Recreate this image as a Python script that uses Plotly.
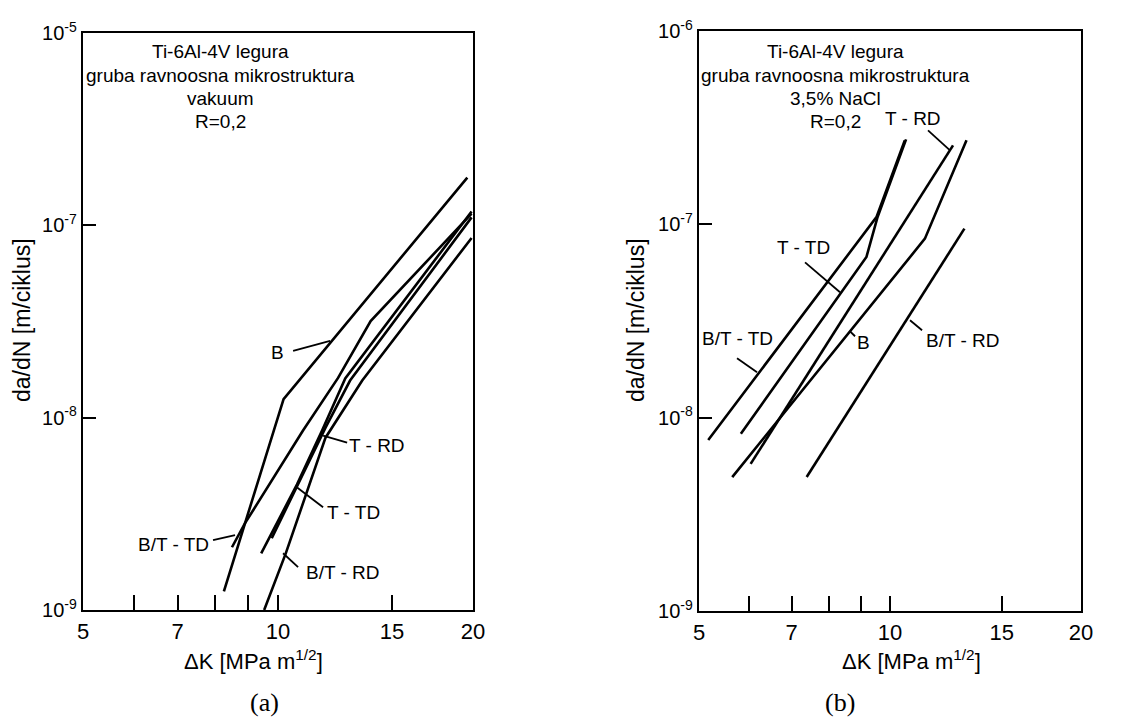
import numpy as np
import plotly.graph_objects as go

# ---------------- Panel (a): vakuum ----------------
a_B_dk = [8.25, 10.2, 19.6]
a_B_rate = [1.25e-9, 1.25e-8, 1.77e-7]

a_BTTD_dk = [8.49, 8.89, 10.93, 12.38, 13.9, 19.9]
a_BTTD_rate = [2.12e-9, 2.82e-9, 8.57e-9, 1.61e-8, 3.18e-8, 1.15e-7]

a_TTD_dk = [9.42, 10.7, 11.7, 12.7, 19.9]
a_TTD_rate = [1.97e-9, 4.5e-9, 8.6e-9, 1.6e-8, 1.18e-7]

a_TRD_dk = [9.78, 11.84, 12.92, 19.9]
a_TRD_rate = [2.36e-9, 8.88e-9, 1.56e-8, 1.1e-7]

a_BTRD_dk = [9.52, 10.28, 11.84, 13.49, 19.9]
a_BTRD_rate = [1.0e-9, 1.97e-9, 7.87e-9, 1.56e-8, 8.6e-8]

# ---------------- Panel (b): 3,5% NaCl ----------------
b_BTTD_dk = [5.17, 9.52, 10.55]
b_BTTD_rate = [7.67e-9, 1.09e-7, 2.72e-7]

b_TTD_dk = [5.82, 9.18, 9.55, 10.6]
b_TTD_rate = [8.25e-9, 6.78e-8, 1.08e-7, 2.75e-7]

b_TRD_dk = [6.03, 12.57]
b_TRD_rate = [5.77e-9, 2.56e-7]

b_B_dk = [5.64, 11.35, 13.2]
b_B_rate = [4.93e-9, 8.43e-8, 2.72e-7]

b_BTRD_dk = [7.39, 13.1]
b_BTRD_rate = [4.93e-9, 9.5e-8]

# ---------------- Labels / leaders (log10 data coords) ----------------
a_label_text = ['B', 'T - RD', 'T - TD', 'B/T - RD', 'B/T - TD']
a_label_logk = [0.9986, 1.153, 1.1159, 1.1005, 0.838]
a_label_logv = [-7.663, -8.145, -8.492, -8.803, -8.658]
a_leader_logk = [[1.0233, 1.0804], [1.1067, 1.0696], [1.0696, 1.0295], [1.031, 1.0078], [0.8997, 0.9337]]
a_leader_logv = [[-7.653, -7.601], [-8.1295, -8.0933], [-8.466, -8.363], [-8.777, -8.705], [-8.637, -8.611]]

b_label_text = ['T - RD', 'T - TD', 'B/T - TD', 'B', 'B/T - RD']
b_label_logk = [1.0363, 0.8629, 0.7589, 0.9575, 1.1151]
b_label_logv = [-6.452, -7.119, -7.589, -7.6098, -7.5995]
b_leader_logk = [[1.0599, 1.0946], [0.8661, 0.9212], [0.7589, 0.7904], [0.937, 0.9449], [1.0315, 1.0505]]
b_leader_logv = [[-6.514, -6.6176], [-7.1964, -7.3514], [-7.6925, -7.7649], [-7.553, -7.5788], [-7.4961, -7.5478]]

a_title_lines = ['Ti-6Al-4V legura', 'gruba ravnoosna mikrostruktura', 'vakuum', 'R=0,2']
b_title_lines = ['Ti-6Al-4V legura', 'gruba ravnoosna mikrostruktura', '3,5% NaCl', 'R=0,2']

x_tick_vals = [5, 7, 10, 15, 20]
x_tick_text = ['5', '7', '10', '15', '20']
x_minor_vals = [6, 8, 9]
y_tick_vals = [1e-9, 1e-8, 1e-7, 1e-6]
a_y_tick_text = ['10<sup>-9</sup>', '10<sup>-8</sup>', '10<sup>-7</sup>', '10<sup>-5</sup>']
b_y_tick_text = ['10<sup>-9</sup>', '10<sup>-8</sup>', '10<sup>-7</sup>', '10<sup>-6</sup>']

FONT = 'Liberation Sans'
LW = 2.6

fig = go.Figure()


def add_line(xs, ys, xa, ya, width=LW):
    fig.add_trace(go.Scatter(x=xs, y=ys, mode='lines', xaxis=xa, yaxis=ya,
                             line=dict(color='black', width=width),
                             showlegend=False, hoverinfo='skip'))


for xs, ys in [(a_B_dk, a_B_rate), (a_BTTD_dk, a_BTTD_rate), (a_TTD_dk, a_TTD_rate),
               (a_TRD_dk, a_TRD_rate), (a_BTRD_dk, a_BTRD_rate)]:
    add_line(xs, ys, 'x', 'y')
for xs, ys in [(b_BTTD_dk, b_BTTD_rate), (b_TTD_dk, b_TTD_rate), (b_TRD_dk, b_TRD_rate),
               (b_B_dk, b_B_rate), (b_BTRD_dk, b_BTRD_rate)]:
    add_line(xs, ys, 'x2', 'y2')

for lk, lv in zip(a_leader_logk, a_leader_logv):
    add_line(list(10 ** np.array(lk)), list(10 ** np.array(lv)), 'x', 'y', width=1.8)
for lk, lv in zip(b_leader_logk, b_leader_logv):
    add_line(list(10 ** np.array(lk)), list(10 ** np.array(lv)), 'x2', 'y2', width=1.8)

annotations = []
lab_font = dict(family=FONT, size=19, color='black')
for t, k, v in zip(a_label_text, a_label_logk, a_label_logv):
    annotations.append(dict(x=k, y=v, xref='x', yref='y', text=t, showarrow=False,
                            xanchor='center', yanchor='middle', font=lab_font))
for t, k, v in zip(b_label_text, b_label_logk, b_label_logv):
    annotations.append(dict(x=k, y=v, xref='x2', yref='y2', text=t, showarrow=False,
                            xanchor='center', yanchor='middle', font=lab_font))

title_y = [0.9276, 0.8955, 0.8635, 0.8301]
for i, t in enumerate(a_title_lines):
    annotations.append(dict(x=0.193, y=title_y[i], xref='paper', yref='paper', text=t,
                            xanchor='center', yanchor='middle', showarrow=False, font=lab_font))
for i, t in enumerate(b_title_lines):
    annotations.append(dict(x=0.7301, y=title_y[i], xref='paper', yref='paper', text=t,
                            xanchor='center', yanchor='middle', showarrow=False, font=lab_font))

# axis titles
for xpos in [0.0192, 0.5555]:
    annotations.append(dict(x=xpos, y=0.5543, xref='paper', yref='paper', text='da/dN [m/ciklus]',
                            textangle=-90, showarrow=False, xanchor='center', yanchor='middle',
                            font=dict(family=FONT, size=23, color='black')))
for xpos in [0.221, 0.7965]:
    annotations.append(dict(x=xpos, y=0.0808, xref='paper', yref='paper',
                            text='ΔK [MPa m<sup>1/2</sup>]', showarrow=False,
                            xanchor='center', yanchor='middle',
                            font=dict(family=FONT, size=22, color='black')))
annotations.append(dict(x=0.2314, y=0.0209, xref='paper', yref='paper', text='(a)', showarrow=False,
                        xanchor='center', yanchor='middle',
                        font=dict(family='Liberation Serif', size=26, color='black')))
annotations.append(dict(x=0.7336, y=0.0209, xref='paper', yref='paper', text='(b)', showarrow=False,
                        xanchor='center', yanchor='middle',
                        font=dict(family='Liberation Serif', size=26, color='black')))


def xaxis_cfg(domain, anchor):
    return dict(type='log', range=[np.log10(5), np.log10(20)], domain=domain, anchor=anchor,
                automargin=False,
                showline=True, linecolor='black', linewidth=2.4, mirror=True,
                ticks='inside', ticklen=15, tickwidth=2, tickcolor='black',
                tickvals=x_tick_vals, ticktext=x_tick_text,
                tickfont=dict(family=FONT, size=22, color='black'),
                showgrid=False, zeroline=False,
                minor=dict(tickvals=x_minor_vals, ticks='inside', ticklen=15, tickwidth=2,
                           tickcolor='black', showgrid=False))


def yaxis_cfg(domain, anchor, ticktext):
    return dict(type='log', range=[-9, -6], domain=domain, anchor=anchor,
                automargin=False,
                showline=True, linecolor='black', linewidth=2.4, mirror=True,
                ticks='inside', ticklen=13, tickwidth=2, tickcolor='black',
                tickvals=y_tick_vals, ticktext=ticktext,
                tickfont=dict(family=FONT, size=20, color='black'),
                showgrid=False, zeroline=False)


fig.update_layout(
    template='none',
    width=1145, height=718, autosize=False,
    margin=dict(l=0, r=0, t=0, b=0, autoexpand=False),
    paper_bgcolor='white', plot_bgcolor='white',
    xaxis=xaxis_cfg([0.0725, 0.4131], 'y'),
    yaxis=yaxis_cfg([0.1504, 0.954], 'x', a_y_tick_text),
    xaxis2=xaxis_cfg([0.6105, 0.9441], 'y2'),
    yaxis2=yaxis_cfg([0.149, 0.9568], 'x2', b_y_tick_text),
    annotations=annotations,
    showlegend=False,
)

fig.write_html('out.html',
               config={'displayModeBar': False},
               post_script="document.body.style.margin='0px';"
                           "document.body.style.overflow='hidden';")
